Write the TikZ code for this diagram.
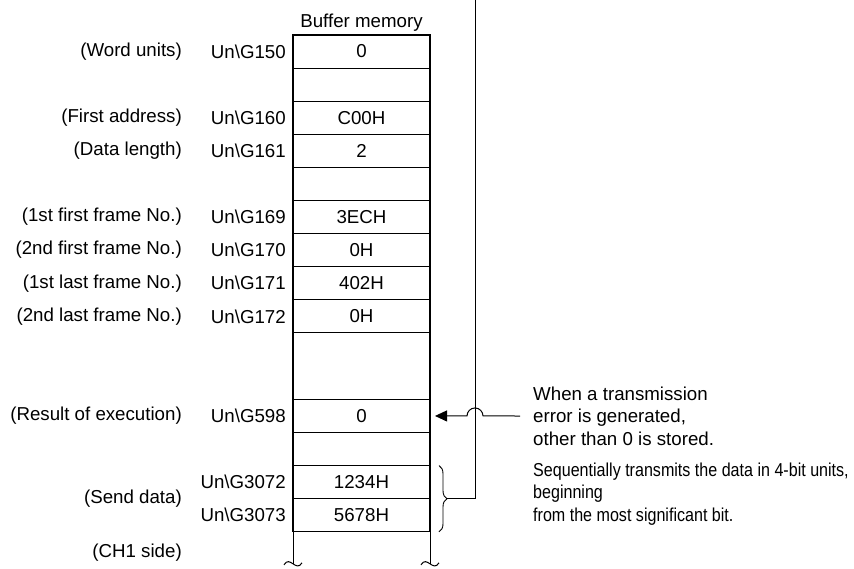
\documentclass[tikz,border=0pt]{standalone}
\usepackage{fontspec}
\setmainfont{Liberation Sans}
\usetikzlibrary{arrows.meta, positioning, calc, decorations.pathreplacing}
\tikzstyle{cell} = [rectangle, draw=black, line width=1.1pt, minimum width=137pt, minimum height=33.1pt, inner sep=0pt, outer sep=0pt]
\tikzstyle{addr} = [inner sep=0pt]
\tikzstyle{desc} = [anchor=east, inner sep=0pt]
\tikzstyle{note} = [anchor=west, inner sep=0pt, align=left]
\tikzstyle{wire} = [line width=1pt]
\tikzstyle{arrow} = [line width=1pt, -{Triangle[length=12pt,width=11pt]}]
\newcommand{\narrow}[1]{\scalebox{0.86}[1]{#1}}

\begin{document}
\begin{tikzpicture}[x=1pt, y=-1pt, node distance=0pt, every node/.style={font=\fontsize{18.7}{22.5}\selectfont}]
    \useasboundingbox (0,0) rectangle (854,568);

    % buffer memory column
    \node (c1) [cell] at (361.5,51.55) {0};
    \node (c2) [cell, below=of c1] {};
    \node (c3) [cell, below=of c2] {C00H};
    \node (c4) [cell, below=of c3] {2};
    \node (c5) [cell, below=of c4] {};
    \node (c6) [cell, below=of c5] {3ECH};
    \node (c7) [cell, below=of c6] {0H};
    \node (c8) [cell, below=of c7] {402H};
    \node (c9) [cell, below=of c8] {0H};
    \node (c10) [cell, below=of c9, minimum height=66.5pt] {};
    \node (c11) [cell, below=of c10] {0};
    \node (c12) [cell, below=of c11] {};
    \node (c13) [cell, below=of c12] {1234H};
    \node (c14) [cell, below=of c13] {5678H};
    \node (title) [above=0pt of c1] {Buffer memory};

    % addresses
    \foreach \c/\a in {c1/150, c3/160, c4/161, c6/169, c7/170, c8/171, c9/172, c11/598, c13/3072, c14/3073} {
        \node [addr, left=7pt of \c] {Un\textbackslash G\a};
    }

    % descriptions
    \coordinate (dx) at (182,0);
    \node [desc] at (dx |- c1) {(Word units)};
    \node [desc] at (dx |- c3) {(First address)};
    \node [desc] at (dx |- c4) {(Data length)};
    \node [desc] at (dx |- c6) {(1st first frame No.)};
    \node [desc] at (dx |- c7) {(2nd first frame No.)};
    \node [desc] at (dx |- c8) {(1st last frame No.)};
    \node [desc] at (dx |- c9) {(2nd last frame No.)};
    \node [desc] at (dx |- c11) {(Result of execution)};
    \node [desc] at (dx |- c13.south) {(Send data)};
    \node [desc] at (182,553) {(CH1 side)};

    % open bottom of the column
    \draw [wire] (c14.south west) -- ++(0,32) coordinate (lb);
    \draw [wire] (c14.south east) -- ++(0,32) coordinate (rb);
    \foreach \p in {lb, rb} {
        \draw [wire] ($(\p)+(-9,1)$) .. controls ($(\p)+(-6,-4)$) and ($(\p)+(-3,-2)$) .. (\p) .. controls ($(\p)+(3,2)$) and ($(\p)+(6,4)$) .. ($(\p)+(9,-1)$);
    }

    % notes
    \node (errnote) [note] at (533,416) {When a transmission\\error is generated,\\other than 0 is stored.};
    \node (sendnote) [note] at (533,494) {\narrow{Sequentially transmits the data in 4-bit units,}\\\narrow{beginning}\\\narrow{from the most significant bit.}};

    % brace and line to the top
    \draw [line width=0.9pt, decorate, decoration={brace, amplitude=8pt}] ($(c13.north east)+(9,0)$) -- ($(c14.south east)+(9,0)$);
    \coordinate (vline) at (475,0);
    \coordinate (brtip) at ($(c13.south east)+(17,0)$);
    \draw [wire] (vline) -- (vline |- c13.south) -- (brtip);

    % error arrow jumping over the line
    \draw [arrow] ([xshift=-13pt]errnote.west) -- ($(vline |- c11)+(8,0)$) arc[start angle=0, end angle=180, radius=8pt] -- ([xshift=5pt]c11.east);
\end{tikzpicture}
\end{document}
